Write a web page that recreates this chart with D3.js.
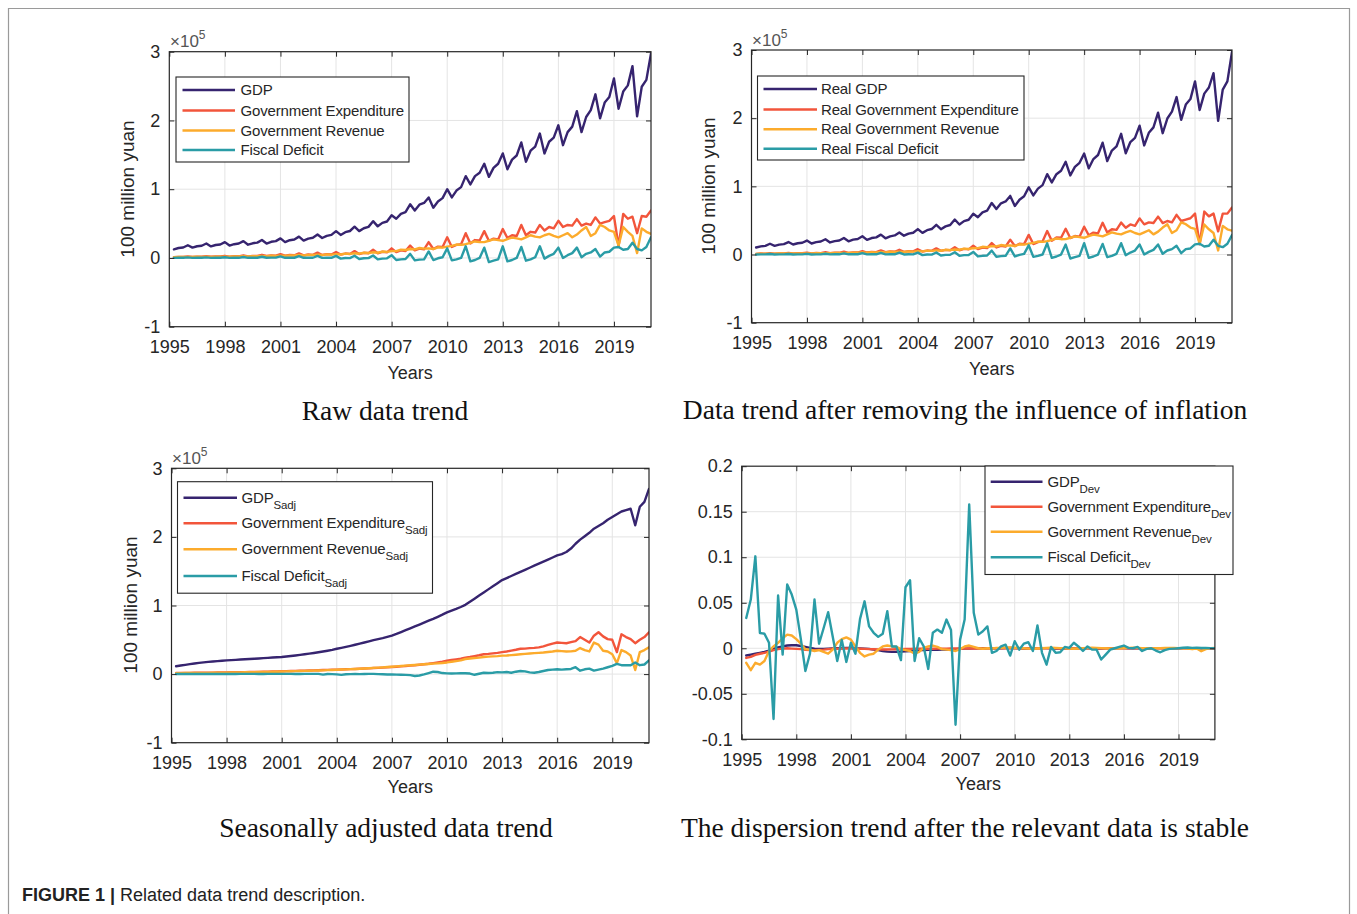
<!DOCTYPE html>
<html>
<head>
<meta charset="utf-8">
<script src="https://cdnjs.cloudflare.com/ajax/libs/d3/7.8.5/d3.min.js"></script>
<style>
  body { margin: 0; background: #fff; }
  svg { display: block; }
</style>
</head>
<body>
<svg id="fig" width="1357" height="914"></svg>
<script>
// ---------------------------------------------------------------------------
// Quarterly data, 1995Q1 - 2020Q4 (values in units of 10^5 (100 million yuan))
// ---------------------------------------------------------------------------
const years = [1995,1996,1997,1998,1999,2000,2001,2002,2003,2004,2005,2006,2007,
               2008,2009,2010,2011,2012,2013,2014,2015,2016,2017,2018,2019,2020];
const quarterNames = ["Q1","Q2","Q3","Q4"];
const xTickYears = [1995,1998,2001,2004,2007,2010,2013,2016,2019];
const levelTicks = [-1,0,1,2,3];
const levelTickLabels = ["-1","0","1","2","3"];
const devTicks = [-0.1,-0.05,0,0.05,0.1,0.15,0.2];
const devTickLabels = ["-0.1","-0.05","0","0.05","0.1","0.15","0.2"];

// Raw data
const gdpRaw = [
 .125,.145,.152,.185, .150,.170,.178,.210, .168,.188,.196,.230, .180,.200,.210,.245,
 .193,.213,.223,.262, .210,.235,.245,.285, .230,.258,.268,.310, .252,.282,.294,.340,
 .290,.322,.335,.390, .335,.375,.392,.455, .390,.432,.452,.535, .460,.510,.530,.620,
 .570,.640,.665,.780, .690,.775,.800,.880, .730,.820,.870,1.000, .880,.980,1.030,1.190,
 1.070,1.190,1.240,1.370, 1.180,1.310,1.370,1.520, 1.290,1.430,1.490,1.680, 1.400,1.560,1.620,1.810,
 1.520,1.690,1.750,1.930, 1.640,1.830,1.910,2.135, 1.830,2.050,2.150,2.380, 2.030,2.260,2.340,2.610,
 2.170,2.420,2.510,2.790, 2.060,2.490,2.590,2.975];
const expRaw = [
 .012,.016,.015,.022, .014,.019,.018,.026, .017,.022,.021,.031, .019,.025,.024,.038,
 .023,.030,.028,.046, .028,.036,.033,.056, .033,.043,.039,.067, .038,.050,.045,.078,
 .043,.056,.051,.086, .050,.064,.058,.099, .058,.075,.069,.118, .068,.090,.082,.140,
 .085,.110,.100,.180, .110,.135,.125,.230, .130,.165,.160,.300, .160,.190,.200,.360,
 .210,.260,.255,.390, .250,.280,.270,.420, .290,.330,.320,.480, .330,.380,.370,.480,
 .400,.450,.430,.540, .450,.480,.470,.565, .470,.500,.480,.590, .500,.520,.540,.610,
 .170,.640,.570,.600, .360,.610,.600,.690];
const revRaw = [
 .011,.014,.013,.014, .013,.017,.016,.017, .016,.020,.019,.020, .018,.023,.022,.024,
 .021,.027,.025,.028, .025,.031,.029,.034, .031,.038,.036,.042, .036,.045,.042,.048,
 .042,.052,.049,.056, .051,.063,.060,.068, .062,.076,.072,.082, .076,.093,.088,.100,
 .100,.120,.115,.130, .125,.145,.135,.140, .130,.155,.150,.165, .175,.195,.190,.200,
 .220,.240,.230,.230, .250,.270,.260,.250, .275,.295,.285,.270, .300,.330,.310,.300,
 .330,.350,.320,.300, .330,.360,.300,.340, .400,.450,.320,.360, .480,.450,.400,.380,
 .180,.450,.380,.320, .070,.430,.380,.350];
const defRaw = [
 .001,.002,.002,.008, .001,.002,.002,.009, .001,.002,.002,.011, .001,.002,.002,.014,
 .002,.003,.003,.018, .003,.005,.004,.022, .002,.005,.003,.025, .002,.005,.003,.030,
 .001,.004,.002,.030, -.010,.000,-.002,.032, -.015,-.005,-.003,.036, -.020,-.010,-.006,.040,
 -.030,-.020,-.015,.060, -.035,-.025,-.020,.095, -.030,-.005,.010,.140, -.035,-.020,.000,.170,
 -.050,-.030,.000,.150, -.060,-.040,-.020,.170, -.050,-.030,.000,.160, -.040,-.020,.010,.170,
 -.010,.030,.060,.150, .000,.040,.070,.150, .010,.060,.080,.130, .020,.080,.090,.150,
 .160,.120,.130,.220, .130,.110,.160,.300];

// After removing the influence of inflation
const gdpReal = [
 .103,.120,.127,.158, .128,.146,.153,.183, .147,.165,.173,.205, .162,.181,.191,.224,
 .177,.196,.205,.243, .194,.218,.228,.267, .215,.242,.252,.292, .238,.267,.280,.324,
 .276,.307,.320,.373, .318,.357,.374,.435, .372,.413,.433,.513, .441,.490,.510,.598,
 .548,.617,.643,.756, .667,.752,.778,.860, .712,.803,.854,.985, .867,.967,1.018,1.178,
 1.058,1.178,1.229,1.360, 1.160,1.285,1.345,1.480, 1.265,1.400,1.460,1.640, 1.370,1.525,1.585,1.770,
 1.485,1.650,1.710,1.890, 1.600,1.785,1.865,2.080, 1.780,1.995,2.095,2.310, 1.975,2.200,2.280,2.540,
 2.120,2.360,2.450,2.660, 1.960,2.420,2.540,2.970];
const expReal = [
 .010,.014,.013,.019, .012,.016,.015,.022, .015,.019,.018,.027, .017,.022,.021,.033,
 .020,.026,.025,.041, .025,.032,.029,.050, .029,.038,.035,.060, .034,.045,.040,.070,
 .039,.050,.046,.078, .045,.058,.053,.090, .053,.069,.063,.108, .063,.083,.076,.130,
 .079,.103,.094,.168, .104,.128,.118,.218, .124,.158,.153,.288, .154,.183,.193,.345,
 .202,.251,.246,.378, .242,.271,.262,.408, .282,.321,.311,.466, .322,.371,.361,.468,
 .392,.441,.421,.530, .442,.472,.462,.556, .462,.492,.472,.582, .492,.512,.532,.600,
 .150,.630,.560,.600, .340,.600,.600,.690];
const revReal = [
 .009,.012,.011,.012, .011,.014,.014,.015, .014,.017,.016,.017, .016,.020,.019,.021,
 .018,.023,.022,.024, .022,.027,.025,.030, .027,.033,.031,.037, .032,.040,.037,.042,
 .037,.046,.043,.050, .046,.057,.054,.061, .056,.069,.065,.074, .070,.086,.081,.093,
 .094,.113,.108,.123, .119,.139,.129,.134, .125,.150,.145,.160, .170,.190,.185,.195,
 .215,.235,.225,.226, .246,.266,.256,.246, .271,.291,.281,.266, .296,.326,.306,.296,
 .326,.346,.316,.296, .326,.356,.296,.336, .396,.445,.316,.356, .470,.445,.396,.376,
 .160,.440,.370,.315, .060,.420,.370,.350];
const defReal = [
 .001,.002,.002,.007, .001,.002,.002,.008, .001,.002,.002,.010, .001,.002,.002,.012,
 .002,.003,.003,.016, .003,.004,.004,.020, .002,.004,.003,.023, .002,.004,.003,.027,
 .001,.004,.002,.028, -.009,.000,-.002,.030, -.014,-.005,-.003,.034, -.019,-.009,-.006,.038,
 -.028,-.019,-.014,.057, -.033,-.024,-.019,.090, -.028,-.005,.009,.135, -.034,-.019,.000,.165,
 -.048,-.029,.000,.146, -.058,-.039,-.019,.166, -.049,-.029,.000,.156, -.039,-.020,.010,.166,
 -.010,.029,.058,.147, .000,.039,.068,.147, .010,.059,.079,.128, .020,.079,.089,.148,
 .158,.118,.128,.216, .128,.108,.158,.285];

// Seasonally adjusted
const gdpSadj = [
 .115,.125,.135,.145, .155,.163,.171,.178, .184,.189,.194,.200, .204,.208,.212,.216,
 .220,.224,.228,.233, .237,.241,.245,.250, .257,.264,.272,.280, .289,.298,.308,.318,
 .329,.341,.354,.370, .383,.397,.412,.428, .444,.461,.478,.496, .510,.525,.542,.560,
 .585,.612,.640,.668, .695,.722,.750,.778, .805,.835,.866,.900, .925,.950,.978,1.010,
 1.055,1.100,1.145,1.190, 1.235,1.280,1.325,1.370, 1.400,1.430,1.460,1.490, 1.520,1.550,1.580,1.610,
 1.640,1.670,1.700,1.730, 1.750,1.780,1.830,1.900, 1.960,2.010,2.060,2.120, 2.160,2.200,2.250,2.290,
 2.330,2.370,2.390,2.410, 2.170,2.440,2.510,2.700];
const expSadj = [
 .017,.017,.018,.018, .019,.020,.020,.021, .022,.023,.024,.025, .026,.027,.028,.029,
 .031,.032,.033,.035, .036,.038,.039,.041, .043,.045,.047,.049, .051,.053,.055,.057,
 .059,.061,.063,.065, .067,.070,.072,.075, .078,.081,.084,.088, .091,.095,.099,.103,
 .108,.113,.118,.124, .130,.137,.144,.150, .160,.170,.180,.195, .205,.215,.225,.240,
 .250,.262,.275,.290, .295,.302,.310,.320, .330,.342,.355,.370, .372,.378,.383,.390,
 .405,.425,.445,.460, .455,.450,.465,.480, .540,.500,.460,.560, .610,.550,.510,.500,
 .320,.580,.540,.510, .450,.500,.540,.610];
const revSadj = [
 .014,.014,.015,.015, .016,.017,.017,.018, .019,.020,.021,.022, .023,.024,.025,.026,
 .027,.028,.030,.031, .032,.034,.035,.037, .039,.041,.043,.045, .047,.049,.051,.053,
 .055,.058,.060,.063, .066,.069,.072,.075, .078,.082,.086,.090, .094,.098,.103,.108,
 .113,.118,.123,.128, .133,.138,.143,.148, .152,.157,.162,.170, .180,.190,.200,.220,
 .228,.235,.240,.250, .255,.258,.262,.270, .272,.277,.283,.290, .295,.300,.305,.310,
 .315,.322,.330,.340, .335,.330,.332,.340, .380,.350,.330,.460, .430,.340,.330,.290,
 .160,.350,.320,.270, .060,.320,.350,.390];
const defSadj = [
 .002,.002,.002,.002, .002,.002,.002,.002, .002,.002,.001,.001, .002,.002,.003,.003,
 .003,.003,.002,.002, .003,.003,.003,.003, .003,.003,.002,.002, .003,.004,.004,.003,
 -.008,.002,.000,-.004, -.012,-.002,.000,.002, .000,.002,.003,.004, .000,-.003,-.005,-.006,
 -.008,-.010,-.012,-.015, -.028,-.020,-.005,.015, .035,.030,.015,.010, .008,.010,.012,.012,
 .008,-.010,.005,.020, .015,.020,.028,.025, .030,.020,.035,.045, .040,.025,.020,.030,
 .045,.060,.065,.070, .065,.070,.075,.100, .050,.070,.080,.050, .065,.080,.100,.120,
 .150,.130,.130,.130, .170,.130,.140,.200];

// Dispersion (deviation) series
const gdpDev = [
 -.008,-.007,-.006,-.005, -.004,-.0026,-.0007,.001, .002,.003,.0033,.0033, .0025,.0015,.0004,-.0004,
 -.0007,-.0007,-.0004,-.0002, 0,0,.0004,.0004, 0,-.0002,-.0004,-.0007, -.0015,-.002,-.003,-.0037,
 -.004,-.004,-.0037,-.0033, -.003,-.0026,-.002,-.002, -.0018,-.0018,-.0018,-.0015, -.0015,-.0011,-.0011,-.0007,
 -.0004,-.0004,0,0, 0,0,0,0, 0,.0002,.0003,.0002, 0,-.0002,-.0003,-.0002,
 0,.0002,.0002,0, -.0002,-.0003,-.0002,0, .0001,.0002,.0001,0, -.0001,-.0002,-.0002,-.0001,
 0,.0001,.0002,.0002, .0001,0,-.0001,-.0001, 0,.0001,.0002,.0002, .0001,0,0,.0001,
 .0002,.0002,.0002,.0001, .0001,.0002,.0002,.0001];
const expDev = [
 -.0106,-.0095,-.0073,-.006, -.005,-.0037,-.002,-.001, -.0004,0,-.0004,-.0007, -.001,-.0018,-.002,-.002,
 -.0018,-.0015,-.001,-.0007, -.0005,-.0004,-.0002,-.0002, -.0004,-.0005,-.0007,-.0009, -.001,-.0012,-.0013,-.0013,
 -.0012,-.001,-.0009,-.0008, -.0007,-.0006,-.0006,-.0005, -.0005,-.0005,-.0004,-.0004, -.0004,-.0003,-.0003,-.0003,
 -.0002,-.0002,-.0002,-.0002, -.0001,-.0001,-.0001,-.0001, 0,.0001,.0001,0, -.0001,-.0001,0,.0001,
 .0001,0,-.0001,0, .0001,.0001,0,-.0001, 0,.0001,.0001,0, 0,-.0001,0,.0001,
 .0001,0,0,.0001, .0001,0,-.0001,0, .0001,.0001,0,0, .0001,.0001,0,.0001,
 .0001,0,-.0004,.0001, .0002,.0001,.0001,.0001];
const revDev = [
 -.016,-.024,-.016,-.018, -.014,-.003,.002,.006, .011,.015,.014,.010, .005,-.001,-.0015,-.003,
 -.002,-.004,-.006,-.0015, .006,.010,.012,.0095, .002,-.005,-.009,-.007, -.006,-.0015,.002,.003,
 .002,.0015,-.001,-.002, -.003,-.006,-.004,.0004, .002,.003,.0015,-.001, -.0015,-.002,-.003,-.001,
 .002,.003,.0015,0, -.0005,0,-.0003,.0004, .0005,.0008,.001,.0006, .0003,0,-.0004,-.0006,
 -.0003,0,.0004,.0006, .0004,.0002,0,-.0003, -.0005,-.0003,0,.0003, .0005,.0004,.0002,0,
 -.0002,-.0003,-.0001,.0002, .0004,.0005,.0004,.0002, 0,-.0001,0,.0002, .0003,.0004,.0003,.0002,
 .0001,-.0002,-.0010,-.0002, -.0032,-.0010,.0002,.0003];
const defDev = [
 .0333,.0535,.101,.0168, .016,.006,-.0777,.058, -.007,.070,.059,.0425, .010,-.025,-.006,.0535,
 .005,.022,.0396,.013, -.014,.009,-.015,.006, -.006,.032,.0516,.024, .017,.0125,.016,.0407,
 .002,.002,-.013,.067, .0747,-.014,.011,.002, -.0227,.017,.0205,.017, .0315,.020,-.084,.0095,
 .0315,.158,.039,.015, .0187,.024,-.005,-.003, .002,.004,-.008,.0077, -.0015,.005,.0066,-.003,
 .025,-.005,-.018,.0015, -.005,-.0044,.0015,.0004, .006,.002,-.003,.002, -.0015,-.0015,-.0124,-.007,
 -.0015,0,.0015,.003, .0004,0,.0015,-.003, -.0007,0,-.0025,-.0044, -.002,-.0007,-.0004,0,
 .0005,.0008,.0004,.0006, .0003,.0004,.0002,0];

// Quarter-end positions on the time axis
const periods = years.flatMap(yr => quarterNames.map((q, k) => yr + (k + 1) / 4));

const colors = { gdp: "#36246f", exp: "#f2553b", rev: "#fcab2c", def: "#2a9ca6" };

// ---------------------------------------------------------------------------
// Layout of the four panels
// ---------------------------------------------------------------------------
const panels = [
  { x0: 169.3, x1: 651, yTop: 51.7, yBot: 326.7, domain: [-1, 3], ticks: levelTicks, tickLabels: levelTickLabels,
    series: [gdpRaw, expRaw, revRaw, defRaw],
    legend: { x: 176, y: 77, w: 233, h: 85, rows: [90, 110.5, 130.5, 150], lx: [182.5, 235], tx: 240.5,
      labels: [["GDP"], ["Government Expenditure"], ["Government Revenue"], ["Fiscal Deficit"]] },
    exponent: [170, 47], ylabel: [134, 189], xlabelY: 379,
    title: "Raw data trend", titlePos: [385, 420] },
  { x0: 751.5, x1: 1232, yTop: 50, yBot: 322.7, domain: [-1, 3], ticks: levelTicks, tickLabels: levelTickLabels,
    series: [gdpReal, expReal, revReal, defReal],
    legend: { x: 757.5, y: 76, w: 266.5, h: 84, rows: [89, 109.5, 129.3, 148.7], lx: [763.5, 817], tx: 821,
      labels: [["Real GDP"], ["Real Government Expenditure"], ["Real Government Revenue"], ["Real Fiscal Deficit"]] },
    exponent: [752, 45.5], ylabel: [715, 186], xlabelY: 375,
    title: "Data trend after removing the influence of inflation", titlePos: [965, 419] },
  { x0: 171.5, x1: 649, yTop: 468.3, yBot: 742.7, domain: [-1, 3], ticks: levelTicks, tickLabels: levelTickLabels,
    series: [gdpSadj, expSadj, revSadj, defSadj],
    legend: { x: 177.5, y: 481.7, w: 255, h: 111.5, rows: [497.7, 523.3, 549.3, 576], lx: [183.5, 237], tx: 241.5,
      labels: [["GDP", "Sadj"], ["Government Expenditure", "Sadj"], ["Government Revenue", "Sadj"], ["Fiscal Deficit", "Sadj"]] },
    exponent: [172, 464], ylabel: [137, 605], xlabelY: 793,
    title: "Seasonally adjusted data trend", titlePos: [386, 837] },
  { x0: 741.7, x1: 1214.9, yTop: 466.2, yBot: 739.3, domain: [-0.1, 0.2], ticks: devTicks, tickLabels: devTickLabels,
    series: [gdpDev, expDev, revDev, defDev],
    legend: { x: 985, y: 466, w: 248, h: 108.5, rows: [481.7, 506.7, 531.7, 557.3], lx: [990.7, 1042.5], tx: 1047.5,
      labels: [["GDP", "Dev"], ["Government Expenditure", "Dev"], ["Government Revenue", "Dev"], ["Fiscal Deficit", "Dev"]] },
    exponent: null, ylabel: null, xlabelY: 790,
    title: "The dispersion trend after the relevant data is stable", titlePos: [965, 837] }
];

const seriesColors = [colors.gdp, colors.exp, colors.rev, colors.def];
const FONT = "'Liberation Sans', Arial, sans-serif";
const AXIS_COLOR = "#262626";
const GRID_COLOR = "#e4e4e4";

const svg = d3.select("#fig");
svg.append("rect").attr("width", 1357).attr("height", 914).attr("fill", "#fff");

// outer frame of the figure
svg.append("path")
  .attr("d", "M8.5,914 V8.5 H1349.5 V914")
  .attr("fill", "none").attr("stroke", "#9a9a9a").attr("stroke-width", 1.2);

panels.forEach((p, pi) => {
  const g = svg.append("g");
  const x = d3.scaleLinear().domain([1995, 2021]).range([p.x0, p.x1]);
  const y = d3.scaleLinear().domain(p.domain).range([p.yBot, p.yTop]);
  const W = p.x1 - p.x0, H = p.yBot - p.yTop;

  // grid
  g.append("g").selectAll("line").data(xTickYears.slice(1)).join("line")
    .attr("x1", d => x(d)).attr("x2", d => x(d)).attr("y1", p.yTop).attr("y2", p.yBot)
    .attr("stroke", GRID_COLOR).attr("stroke-width", 1);
  g.append("g").selectAll("line").data(p.ticks.slice(1, -1)).join("line")
    .attr("x1", p.x0).attr("x2", p.x1).attr("y1", d => y(d)).attr("y2", d => y(d))
    .attr("stroke", GRID_COLOR).attr("stroke-width", 1);

  // series
  const clipId = "clip" + pi;
  g.append("clipPath").attr("id", clipId).append("rect")
    .attr("x", p.x0).attr("y", p.yTop).attr("width", W).attr("height", H);
  const line = d3.line().x((d, i) => x(periods[i])).y(d => y(d));
  const lines = g.append("g").attr("clip-path", `url(#${clipId})`);
  p.series.forEach((s, si) => {
    lines.append("path").datum(s).attr("d", line)
      .attr("fill", "none").attr("stroke", seriesColors[si])
      .attr("stroke-width", 2.4).attr("stroke-linejoin", "round").attr("stroke-linecap", "round");
  });

  // axes (ticks pointing inward on all four sides)
  const styleAxis = sel => {
    sel.select(".domain").remove();
    sel.selectAll(".tick line").attr("stroke", AXIS_COLOR).attr("stroke-width", 1);
    sel.selectAll(".tick text").attr("fill", AXIS_COLOR).attr("font-family", FONT).attr("font-size", 18);
  };
  g.append("g").attr("transform", `translate(0,${p.yBot})`)
    .call(d3.axisBottom(x).tickValues(xTickYears).tickFormat(d => String(d)).tickSizeInner(-5).tickSizeOuter(0).tickPadding(14))
    .call(styleAxis);
  g.append("g").attr("transform", `translate(0,${p.yTop})`)
    .call(d3.axisTop(x).tickValues(xTickYears).tickFormat("").tickSizeInner(-5).tickSizeOuter(0))
    .call(styleAxis);
  const fmtY = d => p.tickLabels[p.ticks.indexOf(d)];
  g.append("g").attr("transform", `translate(${p.x0},0)`)
    .call(d3.axisLeft(y).tickValues(p.ticks).tickFormat(fmtY).tickSizeInner(-5).tickSizeOuter(0).tickPadding(9))
    .call(styleAxis);
  g.append("g").attr("transform", `translate(${p.x1},0)`)
    .call(d3.axisRight(y).tickValues(p.ticks).tickFormat("").tickSizeInner(-5).tickSizeOuter(0))
    .call(styleAxis);

  // frame
  g.append("rect").attr("x", p.x0).attr("y", p.yTop).attr("width", W).attr("height", H)
    .attr("fill", "none").attr("stroke", AXIS_COLOR).attr("stroke-width", 1.2);

  // exponent marker
  if (p.exponent) {
    const t = g.append("text").attr("x", p.exponent[0]).attr("y", p.exponent[1])
      .attr("font-family", FONT).attr("font-size", 17).attr("fill", "#555");
    t.append("tspan").text("×10");
    t.append("tspan").attr("dy", -8).attr("font-size", 12).text("5");
  }

  // axis titles
  g.append("text").attr("x", (p.x0 + p.x1) / 2).attr("y", p.xlabelY)
    .attr("text-anchor", "middle").attr("font-family", FONT).attr("font-size", 18)
    .attr("fill", AXIS_COLOR).text("Years");
  if (p.ylabel) {
    g.append("text").attr("transform", `translate(${p.ylabel[0]},${p.ylabel[1]}) rotate(-90)`)
      .attr("text-anchor", "middle").attr("font-family", FONT).attr("font-size", 19)
      .attr("fill", AXIS_COLOR).text("100 million yuan");
  }

  // legend
  const L = p.legend;
  const lg = g.append("g");
  lg.append("rect").attr("x", L.x).attr("y", L.y).attr("width", L.w).attr("height", L.h)
    .attr("fill", "#fff").attr("stroke", AXIS_COLOR).attr("stroke-width", 1.1);
  L.labels.forEach((lab, li) => {
    lg.append("line").attr("x1", L.lx[0]).attr("x2", L.lx[1]).attr("y1", L.rows[li]).attr("y2", L.rows[li])
      .attr("stroke", seriesColors[li]).attr("stroke-width", 2.4);
    const t = lg.append("text").attr("x", L.tx).attr("y", L.rows[li] + 5)
      .attr("font-family", FONT).attr("font-size", 15).attr("fill", AXIS_COLOR)
      .attr("letter-spacing", -0.15);
    t.append("tspan").text(lab[0]);
    if (lab[1]) t.append("tspan").attr("dy", 6).attr("font-size", 11.5).text(lab[1]);
  });

  // panel caption
  svg.append("text").attr("x", p.titlePos[0]).attr("y", p.titlePos[1])
    .attr("text-anchor", "middle").attr("font-family", "'Liberation Serif', 'Times New Roman', serif")
    .attr("font-size", 27.5).attr("fill", "#111").text(p.title);
});

// figure caption
const cap = svg.append("text").attr("x", 22).attr("y", 901)
  .attr("font-family", FONT).attr("font-size", 18).attr("fill", "#222");
cap.append("tspan").attr("font-weight", "bold").text("FIGURE 1 | ");
cap.append("tspan").text("Related data trend description.");
</script>
</body>
</html>
